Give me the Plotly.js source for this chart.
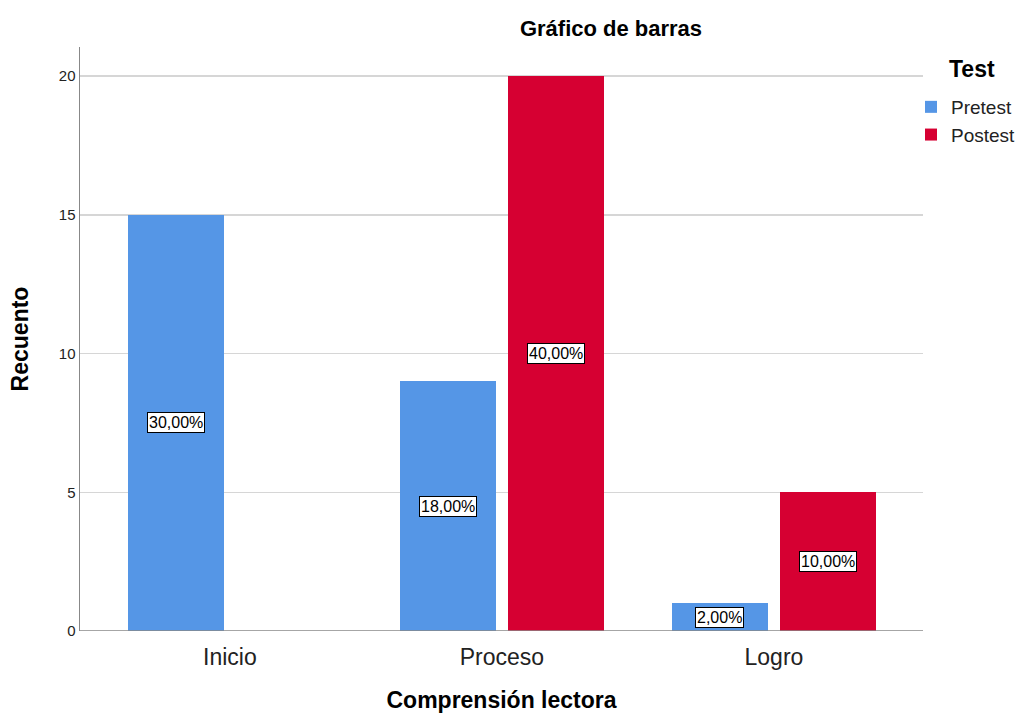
<!DOCTYPE html>
<html>
<head>
<meta charset="utf-8">
<script src="https://cdn.plot.ly/plotly-3.0.1.min.js"></script>
<style>html,body{margin:0;padding:0;background:#fff;}#chart{width:1019px;height:713px;}</style>
</head>
<body>
<div id="chart"></div>
<script>
var categories = ["Inicio", "Proceso", "Logro"];
var pretest = [15, 9, 1];
var postest = [0, 20, 5];
var pretestLabels = ["30,00%", "18,00%", "2,00%"];
var postestLabels = ["", "40,00%", "10,00%"];
var yTicks = [0, 5, 10, 15, 20];

var FONT = "Liberation Sans, Arial, sans-serif";
var barWidth = 0.353;
var preOffset = -0.375;
var postOffset = 0.022;
var idx = categories.map(function(c, i){ return i; });

var traces = [
  {type: "bar", name: "Pretest", x: idx, y: pretest, width: barWidth, offset: preOffset,
   marker: {color: "#5596e6", line: {width: 0}}, hoverinfo: "y"},
  {type: "bar", name: "Postest", x: idx, y: postest, width: barWidth, offset: postOffset,
   marker: {color: "#d60032", line: {width: 0}}, hoverinfo: "y"}
];

var annotations = [];
function addLabels(vals, labels, off) {
  vals.forEach(function(v, i){
    if (!labels[i]) return;
    annotations.push({x: i + off + barWidth/2, y: v/2, xref: "x", yref: "y", text: labels[i],
      showarrow: false, bgcolor: "#ffffff", bordercolor: "#000000", borderwidth: 1, borderpad: 1,
      font: {family: FONT, size: 16, color: "#000"}});
  });
}
addLabels(pretest, pretestLabels, preOffset);
addLabels(postest, postestLabels, postOffset);

annotations.push({xref: "paper", yref: "paper", x: (972-80)/843, y: (631-69)/584, text: "<b>Test</b>",
  showarrow: false, xanchor: "center", yanchor: "middle", font: {family: FONT, size: 23, color: "#000"}});

var layout = {
  width: 1019, height: 713,
  margin: {l: 80, r: 96, t: 47, b: 82, autoexpand: false},
  paper_bgcolor: "#fff", plot_bgcolor: "#fff",
  title: {text: "<b>Gráfico de barras</b>", x: (611-80)/843, xref: "paper", xanchor: "center", y: 1 - 28/713, yanchor: "middle",
    font: {family: FONT, size: 22, color: "#000"}},
  xaxis: {range: [-0.551, 2.548], tickvals: idx, ticktext: categories, showgrid: false, zeroline: false,
    showline: false, ticks: "", ticklabelstandoff: 10, tickfont: {family: FONT, size: 23, color: "#222"},
    title: {text: "<b>Comprensión lectora</b>", standoff: 28, font: {family: FONT, size: 23, color: "#000"}}},
  yaxis: {range: [0, 21.05], tickvals: yTicks, ticktext: yTicks.map(String), showgrid: true, gridcolor: "#d6d6d6", gridwidth: 1.5,
    zeroline: false, showline: true, linecolor: "#888", linewidth: 1.5, ticks: "",
    tickfont: {family: FONT, size: 15, color: "#222"},
    title: {text: "<b>Recuento</b>", standoff: 24, font: {family: FONT, size: 23, color: "#000"}}},
  shapes: [{type: "line", xref: "paper", yref: "y", x0: 0, x1: 1, y0: 0, y1: 0, line: {color: "#888", width: 1.5}}],
  legend: {xref: "container", yref: "container", x: 911/1019, xanchor: "left", y: 1 - 88/713, yanchor: "top",
    bgcolor: "rgba(0,0,0,0)", font: {family: FONT, size: 19, color: "#222"}, itemwidth: 30, tracegroupgap: 0},
  annotations: annotations,
  showlegend: true,
  bargap: 0
};

Plotly.newPlot("chart", traces, layout, {displayModeBar: false, staticPlot: true});
</script>
</body>
</html>
